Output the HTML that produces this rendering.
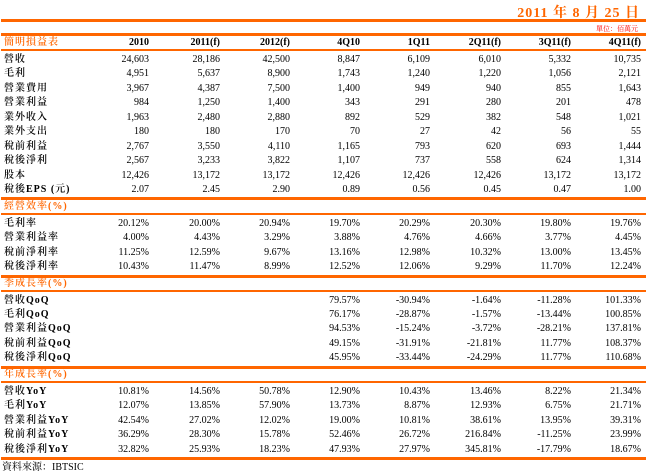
<!DOCTYPE html>
<html><head><meta charset="utf-8"><style>
body{margin:0;width:646px;height:476px;background:#fff;position:relative;overflow:hidden;font-family:"Liberation Serif","Noto Serif CJK SC",serif;font-size:10px;color:#000}
.l{position:absolute;left:1px;width:645px;background:#FF6600}
.r{position:absolute;left:0;width:646px;height:14px;line-height:14px}
.r span{position:absolute;white-space:nowrap}
.r .t{left:4px;letter-spacing:1px;font-weight:600}
.h{font-weight:bold}
.o{color:#FF6600;font-weight:bold}
.c1{right:497px}.c2{right:426px}.c3{right:356px}.c4{right:286px}.c5{right:216px}.c6{right:145px}.c7{right:75px}.c8{right:5px}
</style></head><body>
<div style="position:absolute;right:6px;top:2px;color:#FF6600;font-weight:bold;font-size:14px;letter-spacing:1px">2011 年 8 月 25 日</div>
<div class="l" style="top:19px;height:3px"></div>
<div style="position:absolute;right:8px;top:24px;color:#FF0000;font-size:7px">單位：佰萬元</div>
<div class="l" style="top:33px;height:3px"></div>
<div class="r h" style="top:36px"><span class="t o">簡明損益表</span><span class="c1">2010</span><span class="c2">2011(f)</span><span class="c3">2012(f)</span><span class="c4">4Q10</span><span class="c5">1Q11</span><span class="c6">2Q11(f)</span><span class="c7">3Q11(f)</span><span class="c8">4Q11(f)</span></div>
<div class="l" style="top:49px;height:2px"></div>

<div class="r" style="top:53px"><span class="t">營收</span><span class="c1">24,603</span><span class="c2">28,186</span><span class="c3">42,500</span><span class="c4">8,847</span><span class="c5">6,109</span><span class="c6">6,010</span><span class="c7">5,332</span><span class="c8">10,735</span></div>
<div class="r" style="top:67px"><span class="t">毛利</span><span class="c1">4,951</span><span class="c2">5,637</span><span class="c3">8,900</span><span class="c4">1,743</span><span class="c5">1,240</span><span class="c6">1,220</span><span class="c7">1,056</span><span class="c8">2,121</span></div>
<div class="r" style="top:82px"><span class="t">營業費用</span><span class="c1">3,967</span><span class="c2">4,387</span><span class="c3">7,500</span><span class="c4">1,400</span><span class="c5">949</span><span class="c6">940</span><span class="c7">855</span><span class="c8">1,643</span></div>
<div class="r" style="top:96px"><span class="t">營業利益</span><span class="c1">984</span><span class="c2">1,250</span><span class="c3">1,400</span><span class="c4">343</span><span class="c5">291</span><span class="c6">280</span><span class="c7">201</span><span class="c8">478</span></div>
<div class="r" style="top:111px"><span class="t">業外收入</span><span class="c1">1,963</span><span class="c2">2,480</span><span class="c3">2,880</span><span class="c4">892</span><span class="c5">529</span><span class="c6">382</span><span class="c7">548</span><span class="c8">1,021</span></div>
<div class="r" style="top:125px"><span class="t">業外支出</span><span class="c1">180</span><span class="c2">180</span><span class="c3">170</span><span class="c4">70</span><span class="c5">27</span><span class="c6">42</span><span class="c7">56</span><span class="c8">55</span></div>
<div class="r" style="top:140px"><span class="t">稅前利益</span><span class="c1">2,767</span><span class="c2">3,550</span><span class="c3">4,110</span><span class="c4">1,165</span><span class="c5">793</span><span class="c6">620</span><span class="c7">693</span><span class="c8">1,444</span></div>
<div class="r" style="top:154px"><span class="t">稅後淨利</span><span class="c1">2,567</span><span class="c2">3,233</span><span class="c3">3,822</span><span class="c4">1,107</span><span class="c5">737</span><span class="c6">558</span><span class="c7">624</span><span class="c8">1,314</span></div>
<div class="r" style="top:169px"><span class="t">股本</span><span class="c1">12,426</span><span class="c2">13,172</span><span class="c3">13,172</span><span class="c4">12,426</span><span class="c5">12,426</span><span class="c6">12,426</span><span class="c7">13,172</span><span class="c8">13,172</span></div>
<div class="r" style="top:183px"><span class="t">稅後EPS (元)</span><span class="c1">2.07</span><span class="c2">2.45</span><span class="c3">2.90</span><span class="c4">0.89</span><span class="c5">0.56</span><span class="c6">0.45</span><span class="c7">0.47</span><span class="c8">1.00</span></div>
<div class="l" style="top:197px;height:3px"></div>
<div class="r" style="top:200px"><span class="t o">經營效率(%)</span></div>
<div class="l" style="top:213px;height:2px"></div>
<div class="r" style="top:217px"><span class="t">毛利率</span><span class="c1">20.12%</span><span class="c2">20.00%</span><span class="c3">20.94%</span><span class="c4">19.70%</span><span class="c5">20.29%</span><span class="c6">20.30%</span><span class="c7">19.80%</span><span class="c8">19.76%</span></div>
<div class="r" style="top:231px"><span class="t">營業利益率</span><span class="c1">4.00%</span><span class="c2">4.43%</span><span class="c3">3.29%</span><span class="c4">3.88%</span><span class="c5">4.76%</span><span class="c6">4.66%</span><span class="c7">3.77%</span><span class="c8">4.45%</span></div>
<div class="r" style="top:246px"><span class="t">稅前淨利率</span><span class="c1">11.25%</span><span class="c2">12.59%</span><span class="c3">9.67%</span><span class="c4">13.16%</span><span class="c5">12.98%</span><span class="c6">10.32%</span><span class="c7">13.00%</span><span class="c8">13.45%</span></div>
<div class="r" style="top:260px"><span class="t">稅後淨利率</span><span class="c1">10.43%</span><span class="c2">11.47%</span><span class="c3">8.99%</span><span class="c4">12.52%</span><span class="c5">12.06%</span><span class="c6">9.29%</span><span class="c7">11.70%</span><span class="c8">12.24%</span></div>
<div class="l" style="top:275px;height:3px"></div>
<div class="r" style="top:277px"><span class="t o">季成長率(%)</span></div>
<div class="l" style="top:290px;height:2px"></div>
<div class="r" style="top:294px"><span class="t">營收QoQ</span><span class="c4">79.57%</span><span class="c5">-30.94%</span><span class="c6">-1.64%</span><span class="c7">-11.28%</span><span class="c8">101.33%</span></div>
<div class="r" style="top:308px"><span class="t">毛利QoQ</span><span class="c4">76.17%</span><span class="c5">-28.87%</span><span class="c6">-1.57%</span><span class="c7">-13.44%</span><span class="c8">100.85%</span></div>
<div class="r" style="top:322px"><span class="t">營業利益QoQ</span><span class="c4">94.53%</span><span class="c5">-15.24%</span><span class="c6">-3.72%</span><span class="c7">-28.21%</span><span class="c8">137.81%</span></div>
<div class="r" style="top:337px"><span class="t">稅前利益QoQ</span><span class="c4">49.15%</span><span class="c5">-31.91%</span><span class="c6">-21.81%</span><span class="c7">11.77%</span><span class="c8">108.37%</span></div>
<div class="r" style="top:351px"><span class="t">稅後淨利QoQ</span><span class="c4">45.95%</span><span class="c5">-33.44%</span><span class="c6">-24.29%</span><span class="c7">11.77%</span><span class="c8">110.68%</span></div>
<div class="l" style="top:366px;height:3px"></div>
<div class="r" style="top:368px"><span class="t o">年成長率(%)</span></div>
<div class="l" style="top:381px;height:2px"></div>
<div class="r" style="top:385px"><span class="t">營收YoY</span><span class="c1">10.81%</span><span class="c2">14.56%</span><span class="c3">50.78%</span><span class="c4">12.90%</span><span class="c5">10.43%</span><span class="c6">13.46%</span><span class="c7">8.22%</span><span class="c8">21.34%</span></div>
<div class="r" style="top:399px"><span class="t">毛利YoY</span><span class="c1">12.07%</span><span class="c2">13.85%</span><span class="c3">57.90%</span><span class="c4">13.73%</span><span class="c5">8.87%</span><span class="c6">12.93%</span><span class="c7">6.75%</span><span class="c8">21.71%</span></div>
<div class="r" style="top:414px"><span class="t">營業利益YoY</span><span class="c1">42.54%</span><span class="c2">27.02%</span><span class="c3">12.02%</span><span class="c4">19.00%</span><span class="c5">10.81%</span><span class="c6">38.61%</span><span class="c7">13.95%</span><span class="c8">39.31%</span></div>
<div class="r" style="top:428px"><span class="t">稅前利益YoY</span><span class="c1">36.29%</span><span class="c2">28.30%</span><span class="c3">15.78%</span><span class="c4">52.46%</span><span class="c5">26.72%</span><span class="c6">216.84%</span><span class="c7">-11.25%</span><span class="c8">23.99%</span></div>
<div class="r" style="top:443px"><span class="t">稅後淨利YoY</span><span class="c1">32.82%</span><span class="c2">25.93%</span><span class="c3">18.23%</span><span class="c4">47.93%</span><span class="c5">27.97%</span><span class="c6">345.81%</span><span class="c7">-17.79%</span><span class="c8">18.67%</span></div>
<div class="l" style="top:457px;height:3px"></div>
<div class="r" style="top:461px"><span class="t" style="left:2px;letter-spacing:0;font-weight:normal">資料來源：IBTSIC</span></div>
</body></html>
